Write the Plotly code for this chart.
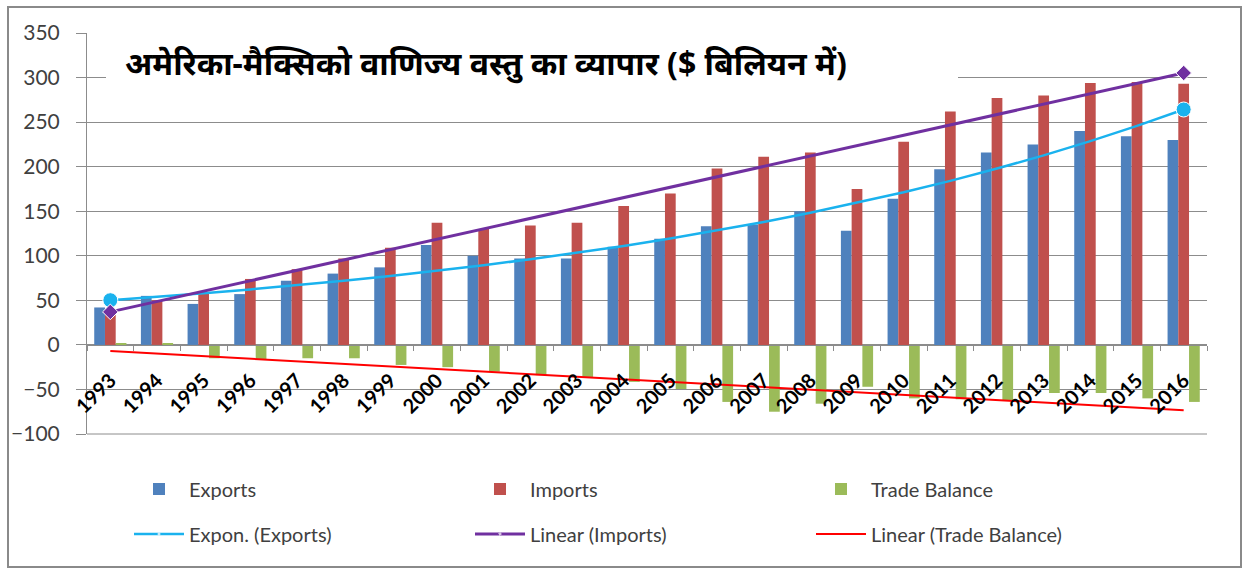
import numpy as np
import plotly.graph_objects as go

years = [str(y) for y in range(1993, 2017)]
exports = [42, 55, 46, 57, 72, 80, 87, 112, 100, 97, 97, 110, 119, 133, 135, 150,
           128, 164, 197, 216, 225, 240, 234, 230]
imports = [40, 50, 58, 74, 85, 97, 109, 137, 130, 134, 137, 156, 170, 198, 211, 216,
           175, 228, 262, 277, 280, 294, 295, 293]
trade_balance = [1.7, 1.3, -15, -16, -15, -15, -22.5, -25, -30, -34, -36, -41.5, -49.5,
                 -64, -75, -66, -47, -60, -61, -62, -54, -54, -60, -64]
title_text = "अमेरिका-मैक्सिको वाणिज्य वस्तु का व्यापार ($ बिलियन में)"

# Excel-style trendlines fitted to the data (x = 1..n)
n = len(years)
xi = np.arange(1, n + 1)
b_exp, a_exp = np.polyfit(xi, np.log(exports), 1)
expon_exports = np.exp(a_exp + b_exp * xi)
m_imp, c_imp = np.polyfit(xi, imports, 1)
linear_imports = m_imp * xi + c_imp
m_tb, c_tb = np.polyfit(xi, trade_balance, 1)
linear_tb = m_tb * xi + c_tb

end_sizes_c = [15] + [0] * (n - 2) + [15]
end_sizes_d = [12] + [0] * (n - 2) + [12]

fig = go.Figure()
fig.add_bar(x=years, y=exports, name="Exports", marker=dict(color="#4F81BD", line_width=0))
fig.add_bar(x=years, y=imports, name="Imports", marker=dict(color="#C0504D", line_width=0))
fig.add_bar(x=years, y=trade_balance, name="Trade Balance", marker=dict(color="#9BBB59", line_width=0))
fig.add_scatter(x=years, y=expon_exports, name="Expon. (Exports)", mode="lines+markers",
                line=dict(color="#1AB2EE", width=2.5),
                marker=dict(symbol="circle", size=end_sizes_c, color="#1AB2EE", opacity=1),
                legend="legend2")
fig.add_scatter(x=years, y=linear_imports, name="Linear (Imports)", mode="lines+markers",
                line=dict(color="#7030A0", width=3),
                marker=dict(symbol="diamond", size=end_sizes_d, color="#7030A0", opacity=1),
                legend="legend2")
fig.add_scatter(x=years, y=linear_tb, name="Linear (Trade Balance)", mode="lines",
                line=dict(color="#FF0000", width=2), legend="legend2")

L, R, T, B = 87, 40, 33, 135
W, H = 1247, 569
pw, ph = W - L - R, H - T - B

def px_x(p):
    return (p - L) / pw

def px_y(p):
    return (H - B - p) / ph

legend_font = dict(family="Lato, Open Sans, sans-serif", size=20, color="#404040")
fig.update_layout(
    width=W, height=H,
    margin=dict(l=L, r=R, t=T, b=B, autoexpand=False),
    paper_bgcolor="white", plot_bgcolor="white",
    barmode="group", bargap=0.31, bargroupgap=0,
    font=dict(family="Lato, Open Sans, sans-serif"),
    legend=dict(orientation="h", x=px_x(129), y=px_y(489), xanchor="left", yanchor="middle",
                entrywidth=276, entrywidthmode="pixels", font=legend_font,
                bgcolor="rgba(0,0,0,0)", itemwidth=50),
    legend2=dict(orientation="h", x=px_x(129), y=px_y(534), xanchor="left", yanchor="middle",
                 entrywidth=276, entrywidthmode="pixels", font=legend_font,
                 bgcolor="rgba(0,0,0,0)", itemwidth=50),
    xaxis=dict(type="category", tickson="boundaries", ticks="outside", ticklen=5,
               tickcolor="#8c8c8c", showline=True, linecolor="#8c8c8c", linewidth=1,
               anchor="free", position=100 / 450, tickangle=-45, showgrid=False,
               automargin=False, range=[-0.5, n - 0.5],
               tickfont=dict(family="Lato, sans-serif", size=20, color="black", weight="bold"),
               ticklabelstandoff=15),
    yaxis=dict(range=[-100, 350], dtick=50, showgrid=True, gridcolor="#8c8c8c", gridwidth=1,
               ticks="outside", ticklen=10, tickcolor="#8c8c8c", showline=True,
               linecolor="#8c8c8c", zeroline=False, automargin=False,
               tickfont=dict(family="Lato, sans-serif", size=21, color="#404040"),
               ticklabelstandoff=12),
    shapes=[
        dict(type="rect", xref="paper", yref="paper", x0=px_x(106), x1=px_x(958),
             y0=px_y(98), y1=px_y(28), fillcolor="white", line_width=0, layer="above"),
        dict(type="line", xref="paper", yref="paper", x0=0, x1=1, y0=0, y1=0,
             line=dict(color="#8c8c8c", width=1), layer="above"),
        dict(type="rect", xref="paper", yref="paper", x0=px_x(8), x1=px_x(1241),
             y0=px_y(567), y1=px_y(7), line=dict(color="#8a8a8a", width=2),
             fillcolor="rgba(0,0,0,0)", layer="above"),
    ],
    annotations=[
        dict(text=title_text, xref="paper", yref="paper", x=px_x(123), y=px_y(62),
             xanchor="left", yanchor="middle", showarrow=False,
             font=dict(family="Noto Sans, sans-serif", size=32, color="black", weight="bold")),
    ],
)

fig.write_html("out.html", config={"displayModeBar": False},
               post_script="document.body.style.margin='0';")
